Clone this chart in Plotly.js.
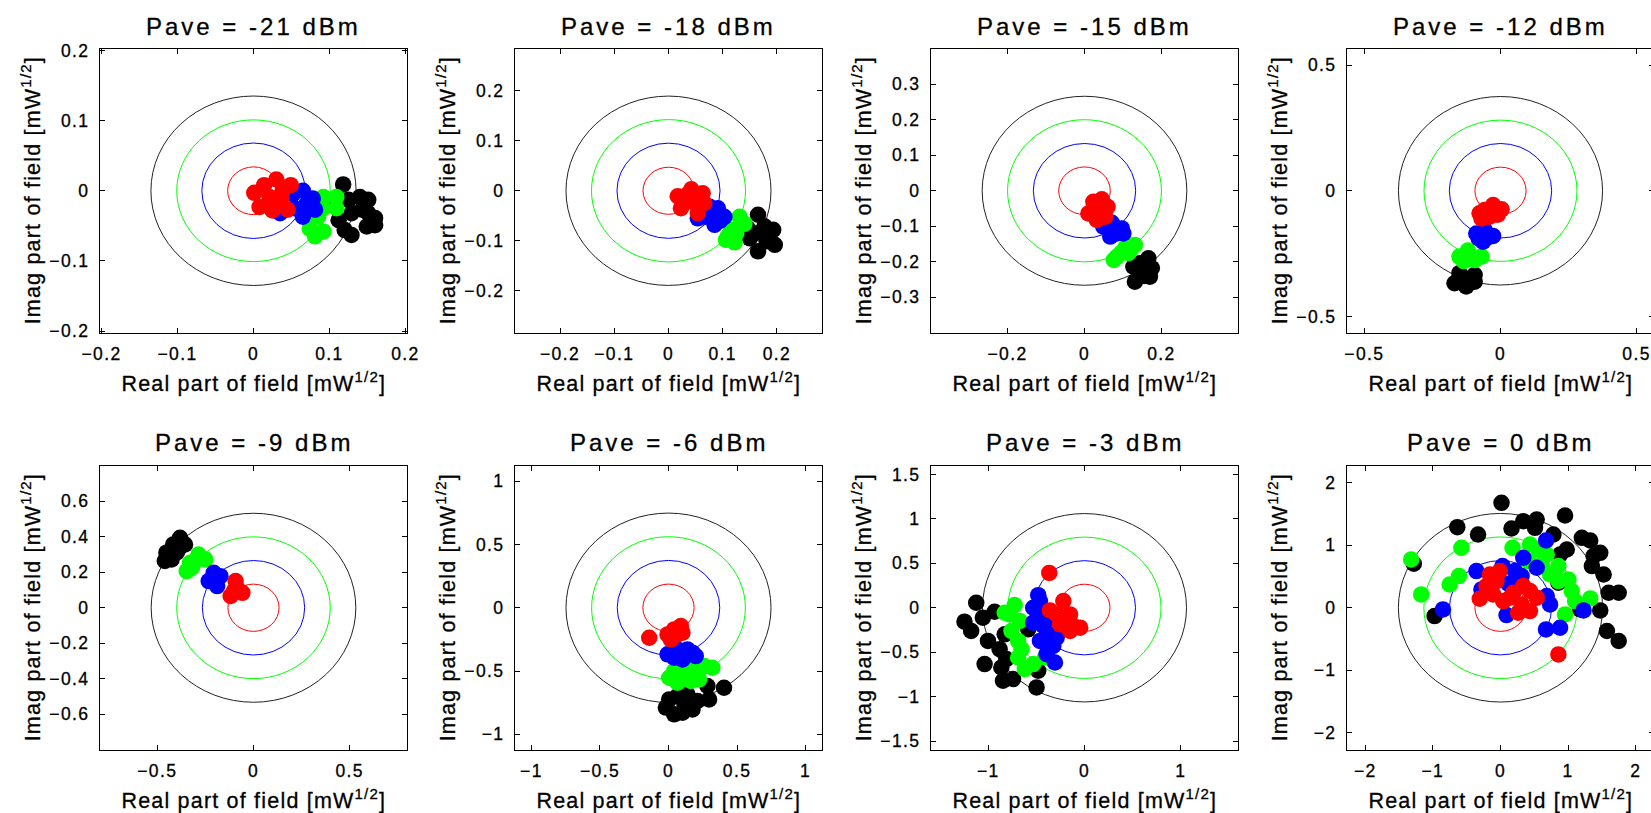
<!DOCTYPE html>
<html><head><meta charset="utf-8">
<script src="https://cdn.plot.ly/plotly-3.0.1.min.js"></script>
<style>
html,body{margin:0;padding:0;overflow:hidden;background:#fff;}
#plot .xaxislayer-above text,#plot .yaxislayer-above text{letter-spacing:1.4px;stroke:#000;stroke-width:0.3px;}
#plot .annotation-text{letter-spacing:1.2px;stroke:#000;stroke-width:0.3px;}
</style></head>
<body><div id="plot"></div>
<script>
// ---------- data ----------
const titles = ['Pave = -21 dBm','Pave = -18 dBm','Pave = -15 dBm','Pave = -12 dBm',
                'Pave = -9 dBm','Pave = -6 dBm','Pave = -3 dBm','Pave = 0 dBm'];
const axisLim = [0.202, 0.283, 0.399, 0.564, 0.798, 1.12, 1.595, 2.27];
const ringRed   = [0.034, 0.047, 0.067, 0.094, 0.133, 0.187, 0.265, 0.378];
const ringBlue  = [0.068, 0.095, 0.133, 0.188, 0.266, 0.374, 0.530, 0.755];
const ringGreen = [0.101, 0.142, 0.200, 0.281, 0.399, 0.561, 0.795, 1.133];
const ringBlack = [0.135, 0.189, 0.266, 0.375, 0.532, 0.748, 1.060, 1.510];
const xTicks = [[-0.2,-0.1,0,0.1,0.2],[-0.2,-0.1,0,0.1,0.2],[-0.2,0,0.2],[-0.5,0,0.5],
                [-0.5,0,0.5],[-1,-0.5,0,0.5,1],[-1,0,1],[-2,-1,0,1,2]];
const yTicks = [[-0.2,-0.1,0,0.1,0.2],[-0.2,-0.1,0,0.1,0.2],[-0.3,-0.2,-0.1,0,0.1,0.2,0.3],[-0.5,0,0.5],
                [-0.6,-0.4,-0.2,0,0.2,0.4,0.6],[-1,-0.5,0,0.5,1],[-1.5,-1,-0.5,0,0.5,1,1.5],[-2,-1,0,1,2]];

// Pave = -21 dBm
const p21_red_re   = [0.001,0.014,0.030,0.049,0.045,0.008,0.025,0.021,0.036,0.038];
const p21_red_im   = [-0.003,0.008,0.016,0.008,-0.027,-0.023,-0.028,-0.009,-0.013,-0.001];
const p21_blue_re  = [0.035,0.052,0.065,0.078,0.081,0.065,0.054,0.069];
const p21_blue_im  = [-0.032,-0.005,0.000,-0.011,-0.027,-0.037,-0.025,-0.020];
const p21_green_re = [0.092,0.109,0.092,0.109,0.085,0.074,0.081,0.092];
const p21_green_im = [-0.009,-0.009,-0.025,-0.025,-0.037,-0.054,-0.065,-0.058];
const p21_black_re = [0.118,0.140,0.151,0.160,0.160,0.149,0.129,0.120,0.112,0.129,0.143,0.125,0.151,0.100];
const p21_black_im = [0.009,-0.009,-0.013,-0.039,-0.049,-0.051,-0.063,-0.056,-0.042,-0.032,-0.027,-0.013,-0.032,-0.017];
// Pave = -18 dBm
const p18_red_re   = [0.017,0.042,0.063,0.023,0.054,0.042,0.033,0.066,0.050];
const p18_red_im   = [-0.011,0.003,-0.005,-0.035,-0.045,-0.022,-0.009,-0.025,-0.010];
const p18_blue_re  = [0.054,0.076,0.091,0.103,0.085,0.070,0.095];
const p18_blue_im  = [-0.055,-0.032,-0.035,-0.052,-0.068,-0.052,-0.060];
const p18_green_re = [0.131,0.140,0.116,0.106,0.122,0.125,0.110];
const p18_green_im = [-0.052,-0.066,-0.078,-0.098,-0.103,-0.085,-0.090];
const p18_black_re = [0.165,0.177,0.193,0.196,0.165,0.150,0.159,0.181,0.146,0.180];
const p18_black_im = [-0.048,-0.071,-0.078,-0.108,-0.121,-0.095,-0.085,-0.101,-0.075,-0.088];
// Pave = -15 dBm
const p15_red_re   = [0.010,0.023,0.045,0.060,0.054,0.032,0.036,0.048];
const p15_red_im   = [-0.064,-0.031,-0.024,-0.045,-0.073,-0.082,-0.054,-0.058];
const p15_blue_re  = [0.049,0.071,0.097,0.101,0.067,0.084,0.080];
const p15_blue_im  = [-0.101,-0.090,-0.106,-0.120,-0.129,-0.120,-0.105];
const p15_green_re = [0.084,0.076,0.105,0.131,0.114,0.095,0.120];
const p15_green_im = [-0.186,-0.195,-0.162,-0.153,-0.176,-0.175,-0.165];
const p15_black_re = [0.166,0.175,0.170,0.131,0.127,0.149,0.144,0.155];
const p15_black_im = [-0.190,-0.218,-0.242,-0.256,-0.214,-0.228,-0.204,-0.240];
// Pave = -12 dBm
const p12_red_re   = [-0.070,-0.058,-0.027,0.004,-0.077,-0.040,-0.030,-0.010];
const p12_red_im   = [-0.110,-0.077,-0.057,-0.074,-0.090,-0.103,-0.085,-0.095];
const p12_blue_re  = [-0.089,-0.058,-0.027,-0.064,-0.080,-0.045];
const p12_blue_im  = [-0.170,-0.156,-0.180,-0.203,-0.190,-0.185];
const p12_green_re = [-0.151,-0.120,-0.070,-0.095,-0.135,-0.110];
const p12_green_im = [-0.262,-0.238,-0.262,-0.276,-0.280,-0.258];
const p12_black_re = [-0.169,-0.151,-0.095,-0.126,-0.095,-0.125];
const p12_black_im = [-0.368,-0.328,-0.335,-0.381,-0.362,-0.350];
// Pave = -9 dBm
const p9_red_re    = [-0.119,-0.093,-0.058,-0.102,-0.085];
const p9_red_im    = [0.066,0.150,0.084,0.094,0.110];
const p9_blue_re   = [-0.233,-0.207,-0.172,-0.189,-0.205];
const p9_blue_im   = [0.150,0.197,0.178,0.122,0.160];
const p9_green_re  = [-0.347,-0.330,-0.286,-0.251,-0.304,-0.320];
const p9_green_im  = [0.206,0.253,0.300,0.272,0.263,0.225];
const p9_black_re  = [-0.461,-0.453,-0.418,-0.382,-0.356,-0.400,-0.426,-0.390];
const p9_black_im  = [0.263,0.310,0.356,0.394,0.356,0.310,0.272,0.330];
// Pave = -6 dBm
const p6_red_re    = [-0.141,-0.007,0.041,0.090,0.102,0.017,0.060];
const p6_red_im    = [-0.237,-0.211,-0.171,-0.145,-0.197,-0.250,-0.215];
const p6_blue_re   = [-0.007,0.066,0.138,0.199,0.102,0.041,0.175];
const p6_blue_im   = [-0.368,-0.329,-0.329,-0.382,-0.408,-0.395,-0.355];
const p6_green_re  = [0.005,0.041,0.114,0.187,0.260,0.320,0.066,0.163,0.223];
const p6_green_im  = [-0.553,-0.500,-0.500,-0.474,-0.461,-0.474,-0.592,-0.579,-0.566];
const p6_black_re  = [0.005,0.066,0.138,0.284,0.405,0.296,-0.019,0.041,0.102,0.175,0.114,0.211];
const p6_black_im  = [-0.724,-0.697,-0.684,-0.618,-0.632,-0.724,-0.789,-0.842,-0.829,-0.803,-0.750,-0.737];
// Pave = -3 dBm
const p3_red_re    = [-0.366,-0.220,-0.359,-0.289,-0.202,-0.115,-0.045,-0.150,-0.254,-0.150];
const p3_red_im    = [0.392,0.075,-0.030,-0.075,-0.149,-0.205,-0.224,-0.261,-0.187,-0.075];
const p3_blue_re   = [-0.481,-0.533,-0.481,-0.533,-0.429,-0.359,-0.463,-0.324,-0.307,-0.394,-0.463,-0.341,-0.289];
const p3_blue_im   = [0.142,0.000,-0.093,-0.168,-0.205,-0.299,-0.373,-0.429,-0.616,-0.522,0.075,-0.112,-0.336];
const p3_green_re  = [-0.725,-0.777,-0.672,-0.759,-0.690,-0.655,-0.690,-0.620,-0.533,-0.411,-0.829];
const p3_green_im  = [0.030,-0.075,-0.149,-0.261,-0.373,-0.466,-0.560,-0.690,-0.634,-0.560,-0.056];
const p3_black_re  = [-1.125,-1.247,-1.178,-1.056,-0.934,-1.003,-1.038,-0.882,-0.864,-0.847,-0.742,-0.812,-0.585,-0.498,-0.481,-0.829];
const p3_black_im  = [0.056,-0.157,-0.261,-0.112,-0.045,-0.373,-0.634,-0.466,-0.672,-0.821,-0.802,-0.578,-0.243,-0.896,-0.709,-0.299];
// Pave = 0 dBm
const p0_red_re    = [-0.158,-0.059,-0.208,-0.307,-0.109,0.040,0.188,0.337,0.436,0.535,0.312,0.436,0.262,0.139,0.856,-0.010];
const p0_red_im    = [0.533,0.427,0.347,0.144,0.213,0.107,0.240,0.347,0.267,0.160,0.053,-0.053,-0.080,0.160,-0.747,0.587];
const p0_blue_re   = [0.673,0.337,0.030,-0.356,0.213,0.535,0.114,-0.282,-0.851,0.089,0.733,0.683,0.673,0.881,1.228,0.312];
const p0_blue_im   = [1.077,0.800,0.667,0.587,0.587,0.640,0.384,0.293,-0.027,-0.117,0.053,0.187,-0.347,-0.320,-0.043,0.507];
const p0_green_re  = [-1.322,-1.173,-0.579,-0.752,-0.614,0.178,0.436,0.559,0.683,0.411,0.609,0.856,0.733,0.856,1.005,1.054,1.104,1.327,0.955];
const p0_green_im  = [0.773,0.213,0.960,0.373,0.507,0.960,1.013,0.933,0.853,0.747,0.693,0.667,0.533,0.427,0.453,0.267,0.107,0.149,-0.107];
const p0_black_re  = [0.015,-0.639,-0.332,0.163,0.337,0.535,0.510,0.955,0.782,0.980,0.881,1.203,1.327,1.475,1.376,1.351,1.525,1.599,1.748,1.475,1.178,1.574,1.748,-1.282,-0.975,0.856];
const p0_black_im  = [1.680,1.291,1.173,1.269,1.387,1.413,1.280,1.477,1.173,0.933,0.853,1.120,1.077,0.880,0.827,0.667,0.533,0.240,0.240,-0.043,-0.027,-0.373,-0.533,0.704,-0.133,0.400];

const panels = [
  {red:[p21_red_re,p21_red_im], blue:[p21_blue_re,p21_blue_im], green:[p21_green_re,p21_green_im], black:[p21_black_re,p21_black_im]},
  {red:[p18_red_re,p18_red_im], blue:[p18_blue_re,p18_blue_im], green:[p18_green_re,p18_green_im], black:[p18_black_re,p18_black_im]},
  {red:[p15_red_re,p15_red_im], blue:[p15_blue_re,p15_blue_im], green:[p15_green_re,p15_green_im], black:[p15_black_re,p15_black_im]},
  {red:[p12_red_re,p12_red_im], blue:[p12_blue_re,p12_blue_im], green:[p12_green_re,p12_green_im], black:[p12_black_re,p12_black_im]},
  {red:[p9_red_re,p9_red_im], blue:[p9_blue_re,p9_blue_im], green:[p9_green_re,p9_green_im], black:[p9_black_re,p9_black_im]},
  {red:[p6_red_re,p6_red_im], blue:[p6_blue_re,p6_blue_im], green:[p6_green_re,p6_green_im], black:[p6_black_re,p6_black_im]},
  {red:[p3_red_re,p3_red_im], blue:[p3_blue_re,p3_blue_im], green:[p3_green_re,p3_green_im], black:[p3_black_re,p3_black_im]},
  {red:[p0_red_re,p0_red_im], blue:[p0_blue_re,p0_blue_im], green:[p0_green_re,p0_green_im], black:[p0_black_re,p0_black_im]}
];

// ---------- styling / layout ----------
const FONT = 'Liberation Sans, Arial, Helvetica, sans-serif';
const colors = {red:'#ff0000', blue:'#0000ff', green:'#00ff00', black:'#000000'};
const drawOrder = ['black','green','blue','red'];
const W = 1660, H = 813;
const colLeft = [100, 515, 931, 1347], colW = 307;
const rowTop = [49, 466], rowH = 283.5;

const traces = [], shapes = [], annotations = [];
const layout = {width: W, height: H, margin:{l:0,r:0,t:0,b:0}, showlegend:false,
  paper_bgcolor:'#fff', plot_bgcolor:'#fff', font:{family:FONT, color:'#000'}};

panels.forEach((p, i) => {
  const n = i + 1, sx = n === 1 ? '' : String(n);
  const col = i % 4, row = Math.floor(i / 4);
  const L = colLeft[col], T = rowTop[row];
  const ax = 'x' + sx, ay = 'y' + sx;
  const common = {showline:true, mirror:'allticks', linecolor:'#000', linewidth:1,
    ticks:'inside', ticklen:5, tickwidth:1, tickcolor:'#000', showgrid:false, zeroline:false,
    tickangle:0, tickfont:{family:FONT, size:17.5, color:'#000'}, fixedrange:true};
  layout['xaxis' + sx] = Object.assign({}, common, {domain:[L / W, (L + colW) / W], anchor:ay,
    range:[-axisLim[i], axisLim[i]], tickvals:xTicks[i], ticklabelstandoff:5});
  layout['yaxis' + sx] = Object.assign({}, common, {domain:[1 - (T + rowH) / H, 1 - T / H], anchor:ax,
    range:[-axisLim[i], axisLim[i]], tickvals:yTicks[i], ticklabelstandoff:6});

  const rings = {red:ringRed[i], blue:ringBlue[i], green:ringGreen[i], black:ringBlack[i]};
  ['red','blue','green','black'].forEach(c => {
    const r = rings[c];
    shapes.push({type:'circle', xref:ax, yref:ay, x0:-r, x1:r, y0:-r, y1:r, layer:'below',
      line:{color: c === 'black' ? '#222' : colors[c], width:1}});
  });
  drawOrder.forEach(c => {
    traces.push({type:'scatter', mode:'markers', x:p[c][0], y:p[c][1], xaxis:ax, yaxis:ay,
      marker:{color:colors[c], size:16.5, line:{width:0}}, hoverinfo:'skip'});
  });

  const cx = (L + colW / 2) / W;
  annotations.push({xref:'paper', yref:'paper', x:cx, y:1 - (T - 23) / H, xanchor:'center', yanchor:'middle',
    showarrow:false, text:'<span style="letter-spacing:3px">' + titles[i] + '</span>', font:{family:FONT, size:24, color:'#000'}});
  annotations.push({xref:'paper', yref:'paper', x:cx, y:1 - (T + rowH + 49) / H, xanchor:'center', yanchor:'middle',
    showarrow:false, text:'Real part of field [mW<sup>1/2</sup>]', font:{family:FONT, size:21.5, color:'#000'}});
  annotations.push({xref:'paper', yref:'paper', x:(L - 69) / W, y:1 - (T + rowH / 2) / H, xanchor:'center', yanchor:'middle',
    textangle:-90, showarrow:false, text:'Imag part of field [mW<sup>1/2</sup>]', font:{family:FONT, size:21.5, color:'#000'}});
});
layout.shapes = shapes;
layout.annotations = annotations;

Plotly.newPlot('plot', traces, layout, {displayModeBar:false, staticPlot:true});
</script></body></html>
